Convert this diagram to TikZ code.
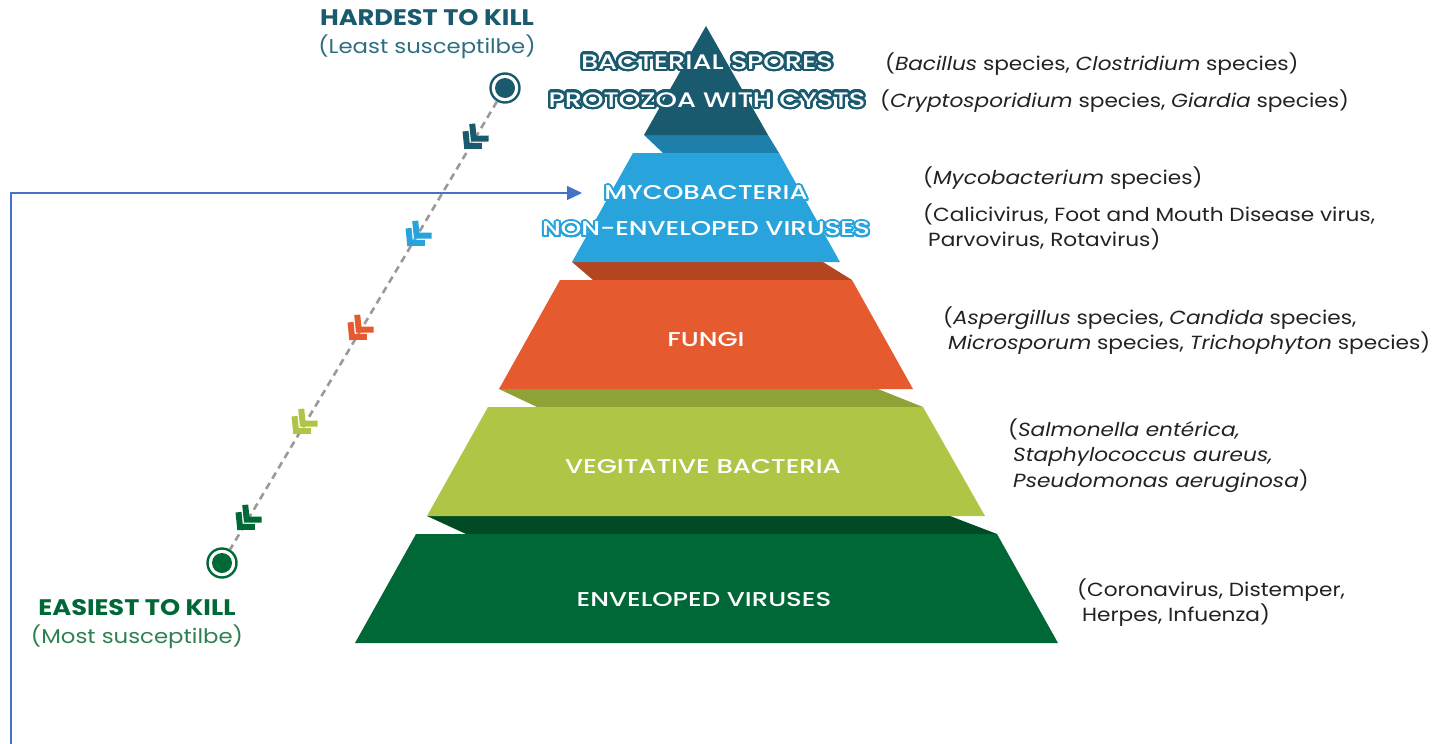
\documentclass[tikz,border=0pt]{standalone}
\usepackage{fontspec}
\setmainfont{Poppins}[FakeStretch=1.14]
\newfontfamily\semib{Poppins Medium}[FakeStretch=1.3]
\usepackage{contour}
\contournumber{32}
\usetikzlibrary{arrows.meta}
\definecolor{cteal}{HTML}{1A5A6E}
\definecolor{cband1}{HTML}{1F7FAB}
\definecolor{cblue}{HTML}{28A3DC}
\definecolor{cband2}{HTML}{B34520}
\definecolor{corange}{HTML}{E65A30}
\definecolor{cband3}{HTML}{8EA237}
\definecolor{clime}{HTML}{AFC546}
\definecolor{cband4}{HTML}{004B23}
\definecolor{cgreen}{HTML}{006837}
\definecolor{ctext}{HTML}{222222}
\definecolor{cleast}{HTML}{2E6E82}
\definecolor{cmost}{HTML}{2E8050}
\definecolor{carrow}{HTML}{4472C4}
\definecolor{cdash}{HTML}{9A9A9A}
\tikzset{
  lbl/.style={text=white, font=\semib\fontsize{20}{24}\selectfont, inner sep=0pt},
  toplbl/.style={text=white, font=\semib\fontsize{21}{24}\selectfont, inner sep=0pt},
  side/.style={text=ctext, font=\fontsize{19}{25.5}\selectfont, align=left, anchor=west, inner sep=0pt},
  ring/.style={circle, draw=#1, line width=2.4pt, minimum size=29pt, inner sep=0pt},
  dashline/.style={draw=cdash, line width=2.6pt, dash pattern=on 7pt off 5pt},
  chevstroke/.style={line width=6pt, line join=miter, miter limit=10},
  chev/.pic={
    \draw[chevstroke, draw=#1] (-10,-11) -- (0,0) -- (-10,11);
    \draw[chevstroke, draw=#1] (-20,-11) -- (-10,0) -- (-20,11);
  },
  bluearrow/.style={draw=carrow, line width=1.3pt, -{Triangle[length=15pt,width=14pt]}}
}
\begin{document}
\begin{tikzpicture}[x=1pt,y=-1pt]
\useasboundingbox (0,0) rectangle (1440,744);
% bands
\fill[cband1] (644,135) -- (768,135) -- (779,153) -- (663,153) -- cycle;
\fill[cband2] (572,262) -- (823,262) -- (852,280) -- (593,280) -- cycle;
\fill[cband3] (499,389) -- (878,389) -- (923,407) -- (537,407) -- cycle;
\fill[cband4] (427,516) -- (950,516) -- (997,534) -- (466,534) -- cycle;
% layers
\fill[cteal] (706,26) -- (768,135) -- (644,135) -- cycle;
\fill[cblue] (633,153) -- (779,153) -- (840,262) -- (572,262) -- cycle;
\fill[corange] (560,280) -- (852,280) -- (913,389) -- (499,389) -- cycle;
\fill[clime] (488,407) -- (923,407) -- (985,516) -- (427,516) -- cycle;
\fill[cgreen] (416,534) -- (997,534) -- (1058,643) -- (355,643) -- cycle;
% layer labels
\node[toplbl] (spores) at (707,63) {\contourlength{2.4pt}\contour{cteal}{BACTERIAL SPORES}};
\node[toplbl] (protozoa) at (707,101) {\contourlength{2.4pt}\contour{cteal}{PROTOZOA WITH CYSTS}};
\node[lbl] (myco) at (706,194) {\contourlength{2pt}\contour{cblue}{MYCOBACTERIA}};
\node[lbl] (nonenv) at (706,230) {\contourlength{2pt}\contour{cblue}{NON-ENVELOPED VIRUSES}};
\node[lbl] (fungi) at (706,340) {FUNGI};
\node[lbl] (veg) at (703,467) {VEGITATIVE BACTERIA};
\node[lbl] (env) at (704,600) {ENVELOPED VIRUSES};
% side texts
\node[side] (s1) at (885,64) {(\textit{Bacillus} species, \textit{Clostridium} species)};
\node[side] (s2) at (880,101) {(\textit{Cryptosporidium} species, \textit{Giardia} species)};
\node[side] (s3) at (923,178) {(\textit{Mycobacterium} species)};
\node[side] (s4) at (923,227) {(Calicivirus, Foot and Mouth Disease virus,\\\hspace*{5pt}Parvovirus, Rotavirus)};
\node[side] (s5) at (943,330.5) {(\textit{Aspergillus} species, \textit{Candida} species,\\\hspace*{5pt}\textit{Microsporum} species, \textit{Trichophyton} species)};
\node[side] (s6) at (1008,455.5) {(\textit{Salmonella entérica,}\\\hspace*{5pt}\textit{Staphylococcus aureus,}\\\hspace*{5pt}\textit{Pseudomonas aeruginosa})};
\node[side] (s7) at (1077,602.5) {(Coronavirus, Distemper,\\\hspace*{5pt}Herpes, Infuenza)};
% left labels
\node[text=cteal, font=\bfseries\fontsize{22.5}{26}\selectfont, inner sep=0pt] (hard) at (427,18) {HARDEST TO KILL};
\node[text=cleast, font=\fontsize{20}{24}\selectfont, inner sep=0pt] (least) at (427,47) {(Least susceptilbe)};
\node[text=cgreen, font=\bfseries\fontsize{22.5}{26}\selectfont, inner sep=0pt] (easy) at (137,608) {EASIEST TO KILL};
\node[text=cmost, font=\fontsize{20}{24}\selectfont, inner sep=0pt] (most) at (137,637) {(Most susceptilbe)};
% markers
\node[ring=cteal] (ctop) at (505,88) {};
\fill[cteal] (ctop.center) circle (10pt);
\node[ring=cgreen] (cbot) at (222,563) {};
\fill[cgreen] (cbot.center) circle (10pt);
\draw[dashline] (ctop) -- (cbot);
% chevrons
\pic[rotate=228] at (467,146) {chev=cteal};
\pic[rotate=228] at (410,243) {chev=cblue};
\pic[rotate=228] at (352,337) {chev=corange};
\pic[rotate=228] at (296,431) {chev=clime};
\pic[rotate=228] at (240,527) {chev=cgreen};
% blue arrow
\coordinate (bstart) at (11,750);
\coordinate (btip) at (582,193);
\draw[bluearrow] (bstart) |- (btip);
\end{tikzpicture}
\end{document}
